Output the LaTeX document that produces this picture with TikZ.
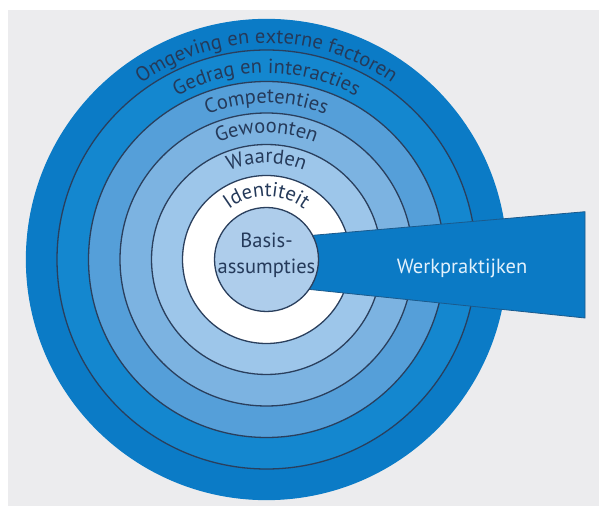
\documentclass[tikz,border=0pt]{standalone}
\usepackage{fontspec}
\setmainfont{PT Sans}
\usetikzlibrary{decorations.text}
\definecolor{bg}{HTML}{ECECEE}
\definecolor{cOuter}{HTML}{0B7BC6}
\definecolor{cGedrag}{HTML}{1487CF}
\definecolor{cComp}{HTML}{559FD9}
\definecolor{cGew}{HTML}{7CB3E1}
\definecolor{cWaard}{HTML}{9DC6EA}
\definecolor{cInner}{HTML}{AECDEB}
\definecolor{cWedge}{HTML}{0B7AC5}
\definecolor{cWedgeEdge}{HTML}{1B5A8C}
\definecolor{cLine}{HTML}{2A3F5D}
\definecolor{cTxt}{HTML}{253A5A}
\definecolor{cWtxt}{HTML}{E2F1FC}
\newcommand\arcfont{\fontsize{20.5}{24}\selectfont}
\begin{document}
\begin{tikzpicture}[x=1pt,y=1pt,
  ring/.style={circle, inner sep=0pt, draw=cLine, line width=1.3pt},
  arclabel/.style={decorate, decoration={text along path, text align=center, text color=cTxt}}]
\useasboundingbox (0,0) rectangle (599,506);
\fill[white] (0,0) rectangle (599,506);
\fill[bg] (8,0) rectangle (599,496);
\coordinate (c) at (266.5,246.5);
% rings
\node[ring, draw=cOuter, fill=cOuter, minimum size=480pt] (outer) at (c) {};
\node[ring, fill=cGedrag, minimum size=419pt] (gedrag) at (c) {};
\node[ring, fill=cComp, minimum size=356pt] (comp) at (c) {};
\node[ring, fill=cGew, minimum size=293pt] (gew) at (c) {};
\node[ring, fill=cWaard, minimum size=230pt] (waard) at (c) {};
\node[ring, fill=white, minimum size=168pt] (ident) at (c) {};
% wedge
\coordinate (wtl) at (290,268.7);
\coordinate (wtr) at (585,294.3);
\coordinate (wbr) at (585,188);
\coordinate (wbl) at (290,218.6);
\filldraw[fill=cWedge, draw=cWedgeEdge, line width=0.8pt] (wtl) -- (wtr) -- (wbr) -- (wbl) -- cycle;
% inner circle
\node[ring, fill=cInner, minimum size=104pt] (basis) at (c) {};
% labels
\path[arclabel, decoration={text={|\arcfont|Omgeving en externe factoren}}] (c) ++(178:216.2) arc[start angle=178, end angle=2, radius=216.2];
\path[arclabel, decoration={text={|\arcfont|Gedrag en interacties}}] (c) ++(178:186.2) arc[start angle=178, end angle=2, radius=186.2];
\path[arclabel, decoration={text={|\arcfont|Competenties}}] (c) ++(178:156.5) arc[start angle=178, end angle=2, radius=156.5];
\path[arclabel, decoration={text={|\arcfont|Gewoonten}}] (c) ++(178:126.5) arc[start angle=178, end angle=2, radius=126.5];
\path[arclabel, decoration={text={|\arcfont|Waarden}}] (c) ++(178:96.5) arc[start angle=178, end angle=2, radius=96.5];
\path[arclabel, decoration={text={|\arcfont|Identiteit}}] (c) ++(178:62.8) arc[start angle=178, end angle=2, radius=62.8];
\node[font=\fontsize{20.5}{26}\selectfont, align=center, text=cTxt, inner sep=0pt] (basistxt) at (266.5,251) {Basis-\\assumpties};
\node[font=\fontsize{20.5}{24}\selectfont, text=cWtxt, anchor=base, inner sep=0pt] (werk) at (462,232.7) {Werkpraktijken};
\end{tikzpicture}
\end{document}
